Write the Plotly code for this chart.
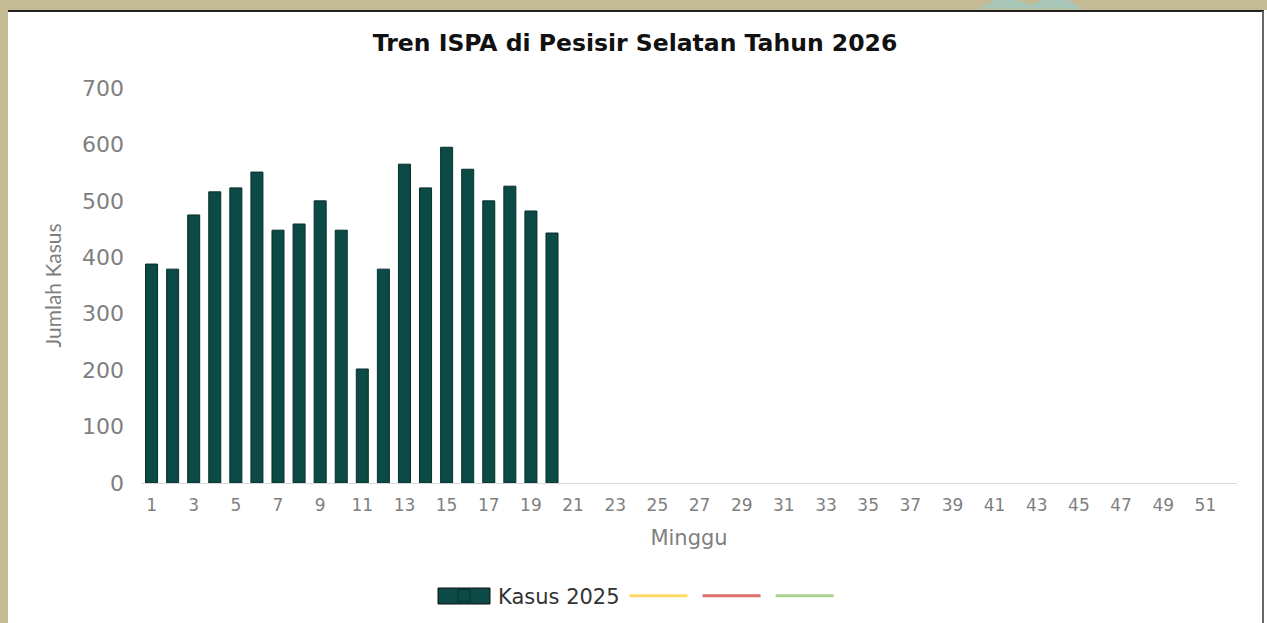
import plotly.graph_objects as go

weeks = list(range(1, 53))
kasus_2025 = [388, 379, 475, 516, 523, 551, 448, 459, 500, 448,
              202, 379, 565, 523, 595, 556, 500, 526, 482, 443]
kasus_2025_full = kasus_2025 + [None] * (len(weeks) - len(kasus_2025))
empty_series = [None] * len(weeks)
line_colors = ["#FFD966", "#E06F6B", "#A9D18E"]
x_tickvals = list(range(1, 53, 2))
y_tickvals = [0, 100, 200, 300, 400, 500, 600, 700]

W, H = 1267, 623
ML, MR, MT, MB = 141, 30, 88, 140
pw, ph = W - ML - MR, H - MT - MB

def px(x):
    return (x - ML) / pw

def py(y):
    return (H - MB - y) / ph

TAN = "#C4BB95"
BAR = "#0B4A45"
EDGE = "#082e2b"

fig = go.Figure()
fig.add_trace(go.Bar(
    x=weeks, y=kasus_2025_full, name="Kasus 2025",
    marker=dict(color=BAR, line=dict(color=EDGE, width=1)),
))
for c in line_colors:
    fig.add_trace(go.Scatter(x=weeks, y=empty_series, mode="lines", name="",
                             line=dict(color=c, width=3)))

teal_pts = [(978, 9), (995, 0), (1017, 0), (1030, 5), (1043, 0), (1068, 0), (1083, 9)]
teal_path = "M " + " L ".join(f"{px(a)},{py(b)}" for a, b in teal_pts) + " Z"

shapes = [
    dict(type="rect", xref="paper", yref="paper", x0=px(8), x1=px(1275), y0=py(640), y1=py(10),
         fillcolor="white", line=dict(width=0), layer="below"),
    dict(type="line", xref="paper", yref="paper", x0=px(8), x1=px(1264), y0=py(11), y1=py(11),
         line=dict(color="#222222", width=2), layer="above"),
    dict(type="line", xref="paper", yref="paper", x0=px(1263), x1=px(1263), y0=py(11), y1=py(640),
         line=dict(color="#666666", width=2), layer="above"),
    dict(type="path", xref="paper", yref="paper", path=teal_path,
         fillcolor="#A8C6B8", line=dict(width=0), layer="above"),
    # wide legend swatch for the bar series
    dict(type="rect", xref="paper", yref="paper", x0=px(438), x1=px(490), y0=py(604), y1=py(588),
         fillcolor=BAR, line=dict(color="#111111", width=1), layer="above"),
]

fig.update_layout(
    width=W, height=H,
    margin=dict(l=ML, r=MR, t=MT, b=MB, autoexpand=False),
    paper_bgcolor=TAN,
    plot_bgcolor="white",
    shapes=shapes,
    title=dict(text="<b>Tren ISPA di Pesisir Selatan Tahun 2026</b>", x=px(635), xref="paper",
               xanchor="center", y=1 - 43 / H, yanchor="middle",
               font=dict(family="DejaVu Sans", size=23.5, color="#111111")),
    bargap=0.43,
    showlegend=True,
    legend=dict(orientation="h", x=px(430), xanchor="left", y=py(596), yanchor="middle",
                font=dict(family="DejaVu Sans", size=21, color="#333333"),
                bgcolor="rgba(0,0,0,0)", itemwidth=58),
    xaxis=dict(range=[0.5, 52.5], tickmode="array", tickvals=x_tickvals, automargin=False,
               showgrid=False, zeroline=False, showline=True, linecolor="#D9D9D9", linewidth=1,
               ticks="", ticklabelstandoff=7,
               tickfont=dict(family="DejaVu Sans", size=17, color="#7F7F7F"),
               title=dict(text="Minggu", font=dict(family="DejaVu Sans", size=21, color="#7F7F7F"),
                          standoff=15)),
    yaxis=dict(range=[0, 700], tickmode="array", tickvals=y_tickvals, automargin=False,
               showgrid=False, zeroline=False, showline=False, ticks="", ticklabelstandoff=16,
               tickfont=dict(family="DejaVu Sans", size=22, color="#7F7F7F"),
               title=dict(text="Jumlah Kasus", font=dict(family="Lato", size=21, color="#7F7F7F"),
                          standoff=14)),
)

fig.write_html(
    "out.html",
    config={"displayModeBar": False},
    post_script="document.body.style.margin='0';document.body.style.background='" + TAN + "';",
)
